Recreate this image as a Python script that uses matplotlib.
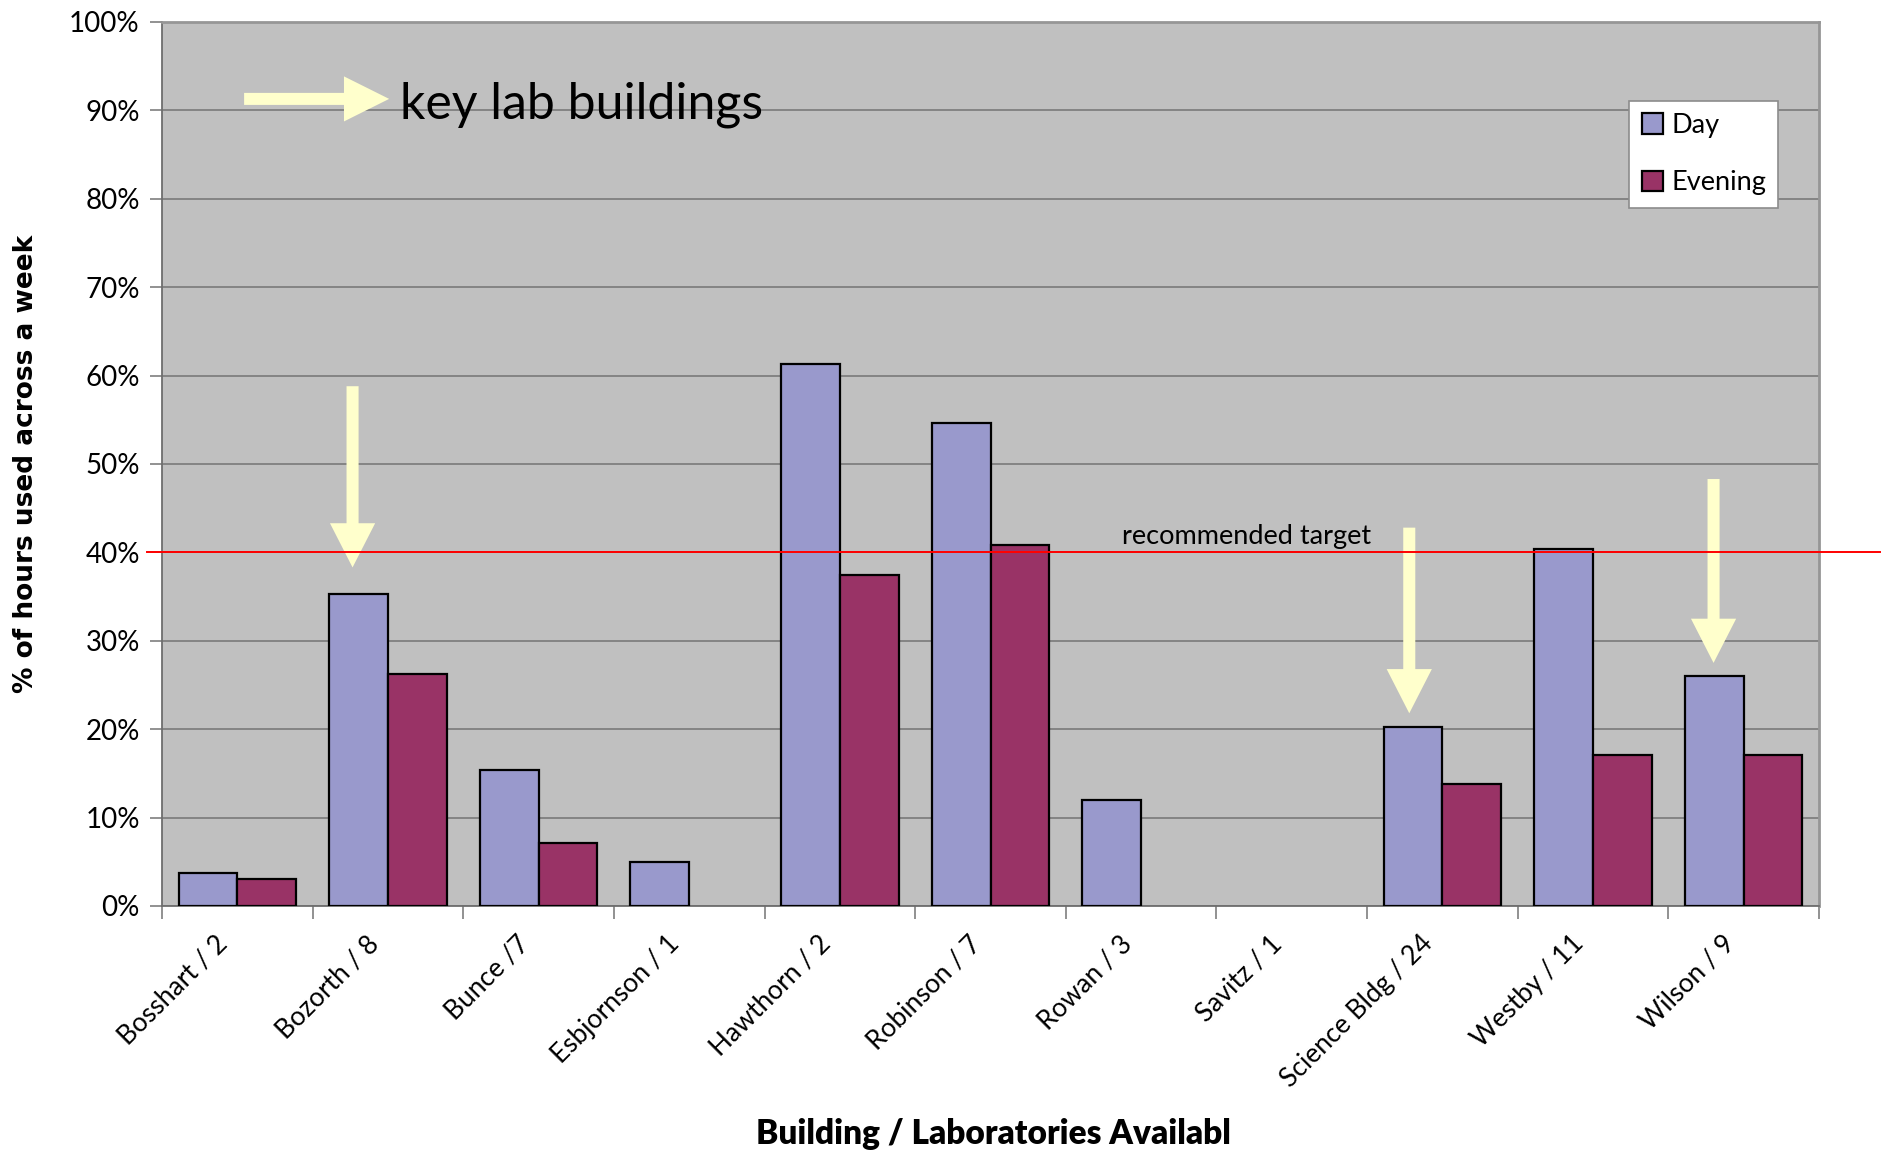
"""Lab utilisation by building: day vs evening share of weekly hours."""

import matplotlib
matplotlib.use("Agg")
import matplotlib.pyplot as plt
import matplotlib.ticker as mticker
import numpy as np
from matplotlib.transforms import Bbox, TransformedBbox, ScaledTranslation

BUILDINGS = [
    "Bosshart / 2", "Bozorth / 8", "Bunce /7", "Esbjornson / 1",
    "Hawthorn / 2", "Robinson / 7", "Rowan / 3", "Savitz / 1",
    "Science Bldg / 24", "Westby / 11", "Wilson / 9",
]
DAY     = [3.7, 35.3, 15.4, 5.0, 61.3, 54.6, 12.0, 0.0, 20.3, 40.4, 26.0]
EVENING = [3.1, 26.2, 7.1, 0.0, 37.5, 40.8, 0.0, 0.0, 13.8, 17.1, 17.1]

TARGET = 40  # recommended utilisation, % of hours

# key buildings flagged with a downward arrow: (category index, x shift, tail %, tip %)
KEY_ARROWS = [
    (1, -0.235, 58.8, 38.3),
    (8, -0.22, 42.8, 21.8),
    (10, -0.20, 48.3, 27.5),
]

DAY_COLOR  = "#9999CC"
EVE_COLOR  = "#993366"
PLOT_BG    = "#C0C0C0"
GRID_COLOR = "#7F7F7F"
ARROW_COLOR = "#FFFFCC"

W, H = 1891, 1152
fig = plt.figure(figsize=(W / 100, H / 100), dpi=100)
ax = fig.add_axes([162 / W, 1 - 906 / H, (1819 - 162) / W, (906 - 22) / H])
ax.set_facecolor(PLOT_BG)

x = np.arange(len(BUILDINGS))
bw = 0.39
day_edges = ["black" if v > 0 else "none" for v in DAY]
eve_edges = ["black" if v > 0 else "none" for v in EVENING]
ax.bar(x - bw / 2, DAY, bw, color=DAY_COLOR, edgecolor=day_edges,
       linewidth=1.6, label="Day", zorder=3)
ax.bar(x + bw / 2, EVENING, bw, color=EVE_COLOR, edgecolor=eve_edges,
       linewidth=1.6, label="Evening", zorder=3)

ax.set_xlim(-0.5, len(BUILDINGS) - 0.5)
ax.set_ylim(0, 100)
ax.set_yticks(np.arange(0, 101, 10))
ax.yaxis.set_major_formatter(mticker.PercentFormatter(xmax=100, decimals=0))
ax.grid(axis="y", color=GRID_COLOR, linewidth=1.3, zorder=1)
ax.set_axisbelow(True)

# category labels centred, tick marks on category boundaries
ax.set_xticks(x)
ax.set_xticks(np.arange(-0.5, len(BUILDINGS)), minor=True)
ax.tick_params(axis="x", which="major", length=0, pad=18)
ax.tick_params(axis="x", which="minor", length=9, width=1.2, color=GRID_COLOR,
               direction="out")
ax.tick_params(axis="y", length=9, width=1.2, color=GRID_COLOR, pad=7,
               labelsize=20)
for lab in ax.get_yticklabels():
    lab.set_family("Lato")
ax.set_xticklabels(BUILDINGS, rotation=45, ha="right", va="top",
                   rotation_mode="anchor", fontsize=19, family="Lato")
# nudge the slanted labels so their ends sit just left of the category centre
shift = ScaledTranslation(-16 / 72, 0, fig.dpi_scale_trans)
for lab in ax.get_xticklabels():
    lab.set_transform(lab.get_transform() + shift)

for side in ["left", "bottom"]:
    ax.spines[side].set_color("#6E6E6E")
    ax.spines[side].set_linewidth(1.3)
for side in ["top", "right"]:
    ax.spines[side].set_color("#969696")
    ax.spines[side].set_linewidth(2.0)

ax.set_ylabel("% of hours used across a week", fontsize=19,
              fontweight="bold", family="DejaVu Sans")
ax.yaxis.set_label_coords(-0.074, 0.5)

# x-axis title, cut off at the right edge
xlab = fig.text(756 / W, 1 - 1134 / H, "Building / Laboratories Available",
                fontsize=24, fontweight="heavy", family="Lato",
                ha="left", va="center")
xlab.set_clip_box(TransformedBbox(Bbox([[0, 0], [1231 / W, 1]]),
                                  fig.transFigure))
xlab.set_clip_on(True)

# recommended target line, running a little past the plot edges
trans = ax.get_yaxis_transform()
ax.plot([-0.009, 1.037], [TARGET, TARGET], color="#FF0000", linewidth=1.4,
        transform=trans, clip_on=False, zorder=6)
ax.text(5.873, TARGET + 1.0, "recommended target", fontsize=19.5,
        family="Lato", ha="left", va="baseline", zorder=6)

# arrows marking the key lab buildings
for idx, dx, tail, tip in KEY_ARROWS:
    ax.arrow(idx + dx, tail, 0, tip - tail, width=0.08, head_width=0.30,
             head_length=5.0, length_includes_head=True,
             facecolor=ARROW_COLOR, edgecolor="none", zorder=5)
ax.arrow(0.045, 91.3, 0.963, 0, width=1.36, head_width=5.1, head_length=0.30,
         length_includes_head=True, facecolor=ARROW_COLOR, edgecolor="none",
         zorder=5)
ax.text(1.08, 90.6, "key lab buildings", fontsize=36, family="Lato",
        ha="left", va="center", zorder=6)

leg = ax.legend(loc="upper right", bbox_to_anchor=(0.9755, 0.911),
                borderaxespad=0, fancybox=False, framealpha=1,
                handlelength=0.8, handleheight=0.8, handletextpad=0.3,
                labelspacing=1.2, borderpad=0.45,
                prop={"family": "Lato", "size": 19.5})
leg.get_frame().set_edgecolor("#8C8C8C")
leg.get_frame().set_linewidth(1.2)
leg.set_zorder(7)

fig.savefig("out.png", dpi=100)
